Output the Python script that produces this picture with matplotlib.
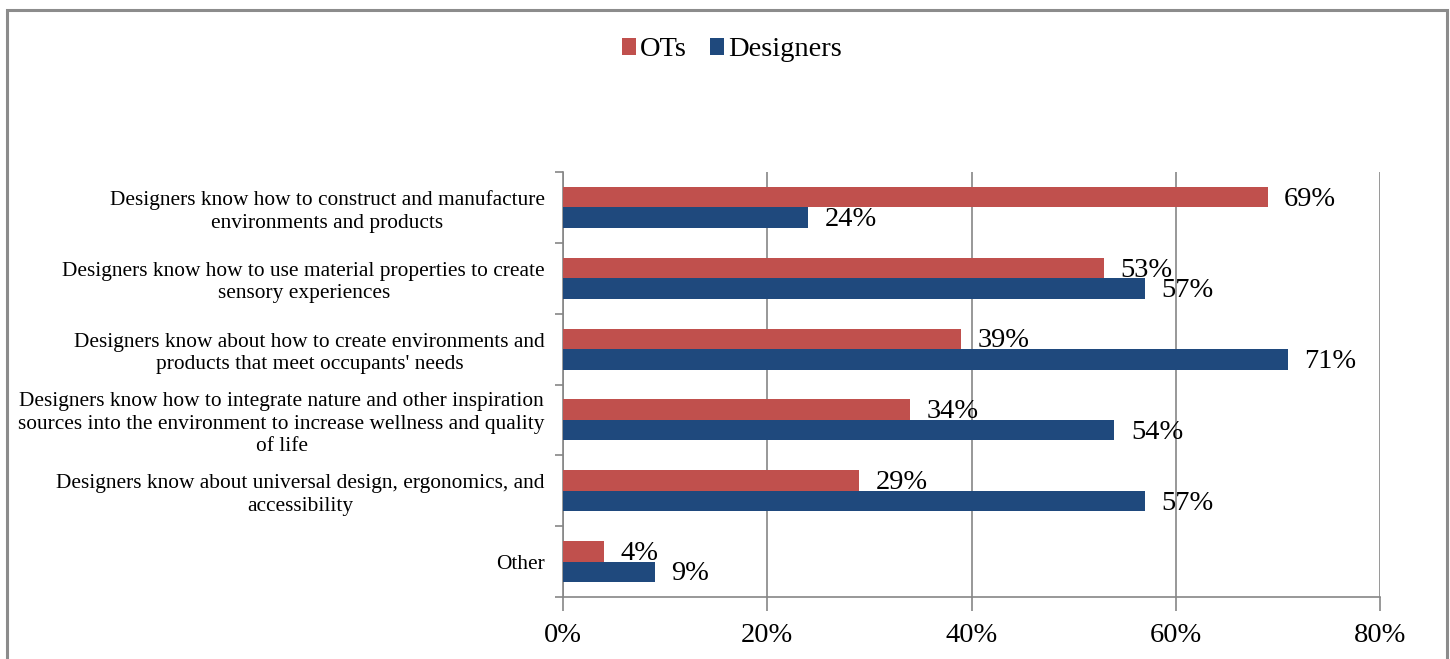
import matplotlib
matplotlib.use("Agg")
import matplotlib.pyplot as plt
from matplotlib.patches import Rectangle
import numpy as np

categories = [
    "Designers know how to construct and manufacture\nenvironments and products",
    "Designers know how to use material properties to create\nsensory experiences",
    "Designers know about how to create environments and\nproducts that meet occupants' needs",
    "Designers know how to integrate nature and other inspiration\nsources into the environment to increase wellness and quality\nof life",
    "Designers know about universal design, ergonomics, and\naccessibility",
    "Other",
]
ots = [69, 53, 39, 34, 29, 4]
designers = [24, 57, 71, 54, 57, 9]
xticks = [0, 20, 40, 60, 80]

RED = "#C0504D"
BLUE = "#1F497D"
GRID = "#868686"

plt.rcParams['font.family'] = ['Liberation Serif', 'DejaVu Serif']

fig = plt.figure(figsize=(14.5, 6.59), dpi=100)
fig.patches.append(Rectangle((7/1450, -0.01), (1447-7)/1450, 1 - 10/659 + 0.01,
                             transform=fig.transFigure, fill=False,
                             edgecolor="#8c8c8c", linewidth=2.2, zorder=0))

ax = fig.add_axes([563/1450, 1 - 597/659, (1380-563)/1450, (597-172)/659])

n = len(categories)
y = np.arange(n)
h = 0.29
ax.barh(y - h/2, ots, height=h, color=RED, label="OTs", zorder=3)
ax.barh(y + h/2, designers, height=h, color=BLUE, label="Designers", zorder=3)

for yi, v in zip(y, ots):
    ax.text(v + 1.6, yi - h/2 + 0.03, f"{v}%", va="center", ha="left", fontsize=20.5, zorder=4)
for yi, v in zip(y, designers):
    ax.text(v + 1.6, yi + h/2 + 0.03, f"{v}%", va="center", ha="left", fontsize=20.5, zorder=4)

ax.set_ylim(n - 0.5, -0.5)
ax.set_xlim(0, 80)
ax.set_xticks(xticks)
ax.set_xticklabels([f"{t}%" for t in xticks], fontsize=20.5)
ax.set_yticks(y)
ax.set_yticklabels(categories, fontsize=15.4, ha="right", multialignment="center",
                   linespacing=1.25)
ax.set_yticks(np.arange(n + 1) - 0.5, minor=True)
ax.tick_params(axis="y", which="major", length=0, pad=13)
ax.tick_params(axis="y", which="minor", length=6, color=GRID, width=1.2)
ax.tick_params(axis="x", which="major", length=10, color=GRID, width=1.2, pad=9)

ax.grid(axis="x", color=GRID, linewidth=1.2, zorder=0)
for s in ["top", "right"]:
    ax.spines[s].set_visible(False)
for s in ["left", "bottom"]:
    ax.spines[s].set_color(GRID)
    ax.spines[s].set_linewidth(1.2)

fig.legend(loc="center", bbox_to_anchor=(732/1450, 1 - 50/659), ncol=2, frameon=False,
           fontsize=20.5, handlelength=0.5, handleheight=0.5, handletextpad=0.15,
           columnspacing=0.8)

fig.savefig("out.png", dpi=100)
